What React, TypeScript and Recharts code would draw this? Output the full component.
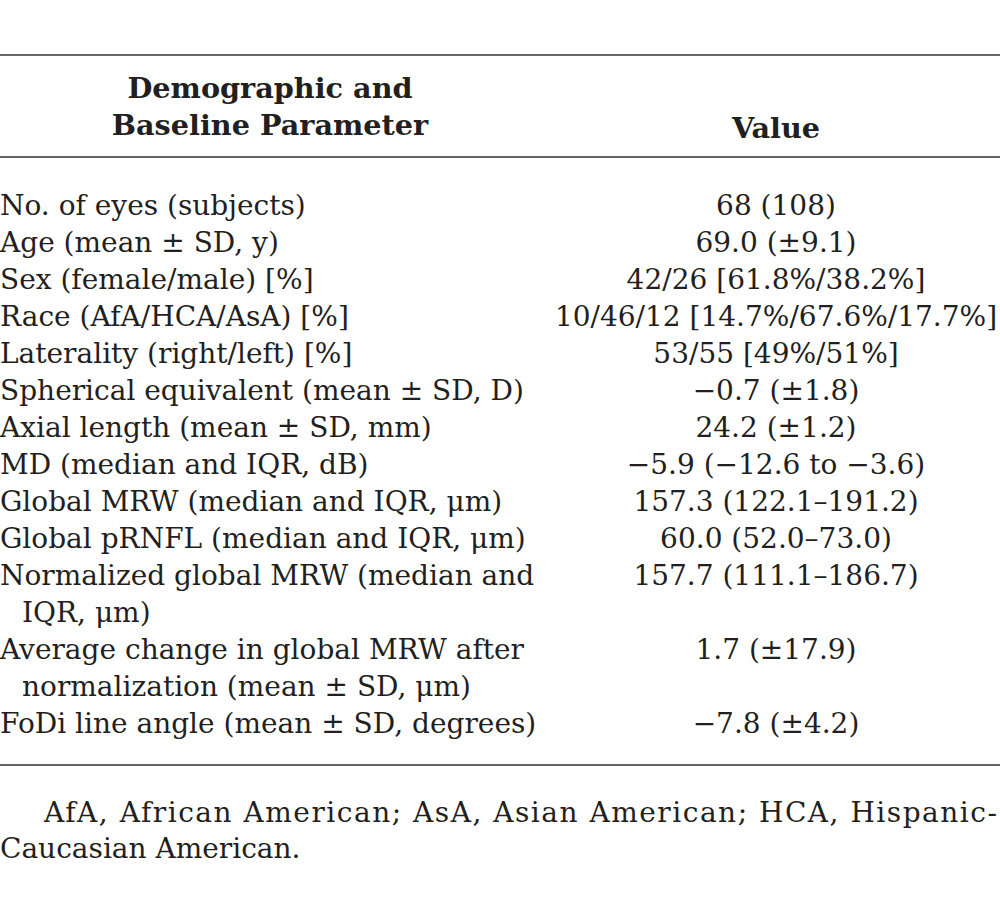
import React from 'react';
import { ComposedChart, Scatter, XAxis, YAxis, ReferenceLine } from 'recharts';

// header cells
const headerLabel = ['Demographic and', 'Baseline Parameter'];
const headerValue = 'Value';

// table body: label lines per row and the value shown on the row's first line
const rowLabels: string[][] = [
  ['No. of eyes (subjects)'],
  ['Age (mean \u00b1 SD, y)'],
  ['Sex (female/male) [%]'],
  ['Race (AfA/HCA/AsA) [%]'],
  ['Laterality (right/left) [%]'],
  ['Spherical equivalent (mean \u00b1 SD, D)'],
  ['Axial length (mean \u00b1 SD, mm)'],
  ['MD (median and IQR, dB)'],
  ['Global MRW (median and IQR, \u03bcm)'],
  ['Global pRNFL (median and IQR, \u03bcm)'],
  ['Normalized global MRW (median and', 'IQR, \u03bcm)'],
  ['Average change in global MRW after', 'normalization (mean \u00b1 SD, \u03bcm)'],
  ['FoDi line angle (mean \u00b1 SD, degrees)'],
];

const rowValues: string[] = [
  '68 (108)',
  '69.0 (\u00b19.1)',
  '42/26 [61.8%/38.2%]',
  '10/46/12 [14.7%/67.6%/17.7%]',
  '53/55 [49%/51%]',
  '\u22120.7 (\u00b11.8)',
  '24.2 (\u00b11.2)',
  '\u22125.9 (\u221212.6 to \u22123.6)',
  '157.3 (122.1\u2013191.2)',
  '60.0 (52.0\u201373.0)',
  '157.7 (111.1\u2013186.7)',
  '1.7 (\u00b117.9)',
  '\u22127.8 (\u00b14.2)',
];

const footnote = [
  'AfA, African American; AsA, Asian American; HCA, Hispanic-',
  'Caucasian American.',
];

const W = 1000;
const H = 913;
const LINE = 37; // px per text line
const FIRST_LINE_Y = 205; // centre of first body line
const FONT = '"DejaVu Serif", serif';
const FS = 28;
const FS_BOLD = 28.7;

// y axis in "line" units, 0 = first body line
const yMin = -FIRST_LINE_Y / LINE;
const yMax = (H - FIRST_LINE_Y) / LINE;

const LEFT_X = 0;
const INDENT_X = 22;
const VALUE_X = 776;
const LABEL_CENTER_X = 270;

const labelPoints: any[] = [];
const valuePoints: any[] = [];
let line = 0;
rowLabels.forEach((lines, i) => {
  lines.forEach((t, j) => {
    labelPoints.push({ x: j === 0 ? LEFT_X : INDENT_X, y: line + j, text: t });
  });
  valuePoints.push({ x: VALUE_X, y: line, text: rowValues[i] });
  line += lines.length;
});

const headerPoints = [
  { x: LABEL_CENTER_X, y: -3.16, text: headerLabel[0] },
  { x: LABEL_CENTER_X, y: -2.16, text: headerLabel[1] },
  { x: VALUE_X, y: -2.08, text: headerValue },
];

const footPoints = [
  { x: 44, y: 16.4, text: footnote[0], fit: 953 },
  { x: LEFT_X, y: 17.38, text: footnote[1] },
];

const makeShape = (anchor: 'start' | 'middle', bold = false) => (props: any) => {
  const { cx, cy, payload } = props;
  const size = bold ? FS_BOLD : FS;
  const extra: any = payload.fit ? { textLength: payload.fit, lengthAdjust: 'spacing' } : {};
  return (
    <text
      x={cx}
      y={cy + size * 0.36}
      textAnchor={anchor}
      fontFamily={FONT}
      fontSize={size}
      fontWeight={bold ? 700 : 400}
      fill="#231f20"
      {...extra}
    >
      {payload.text}
    </text>
  );
};

export default function App() {
  return (
    <div style={{ position: 'absolute', left: 0, top: 0, background: '#fff' }}>
      <ComposedChart width={W} height={H} margin={{ top: 0, right: 0, bottom: 0, left: 0 }}>
        <XAxis type="number" dataKey="x" domain={[0, W]} hide />
        <YAxis type="number" dataKey="y" domain={[yMin, yMax]} reversed hide allowDataOverflow />
        <ReferenceLine y={(55 - FIRST_LINE_Y) / LINE} stroke="#333" strokeWidth={1.5} />
        <ReferenceLine y={(157 - FIRST_LINE_Y) / LINE} stroke="#333" strokeWidth={1.5} />
        <ReferenceLine y={(765 - FIRST_LINE_Y) / LINE} stroke="#333" strokeWidth={1.5} />
        <Scatter data={headerPoints} shape={makeShape('middle', true)} isAnimationActive={false} />
        <Scatter data={labelPoints} shape={makeShape('start')} isAnimationActive={false} />
        <Scatter data={valuePoints} shape={makeShape('middle')} isAnimationActive={false} />
        <Scatter data={footPoints} shape={makeShape('start')} isAnimationActive={false} />
      </ComposedChart>
    </div>
  );
}
